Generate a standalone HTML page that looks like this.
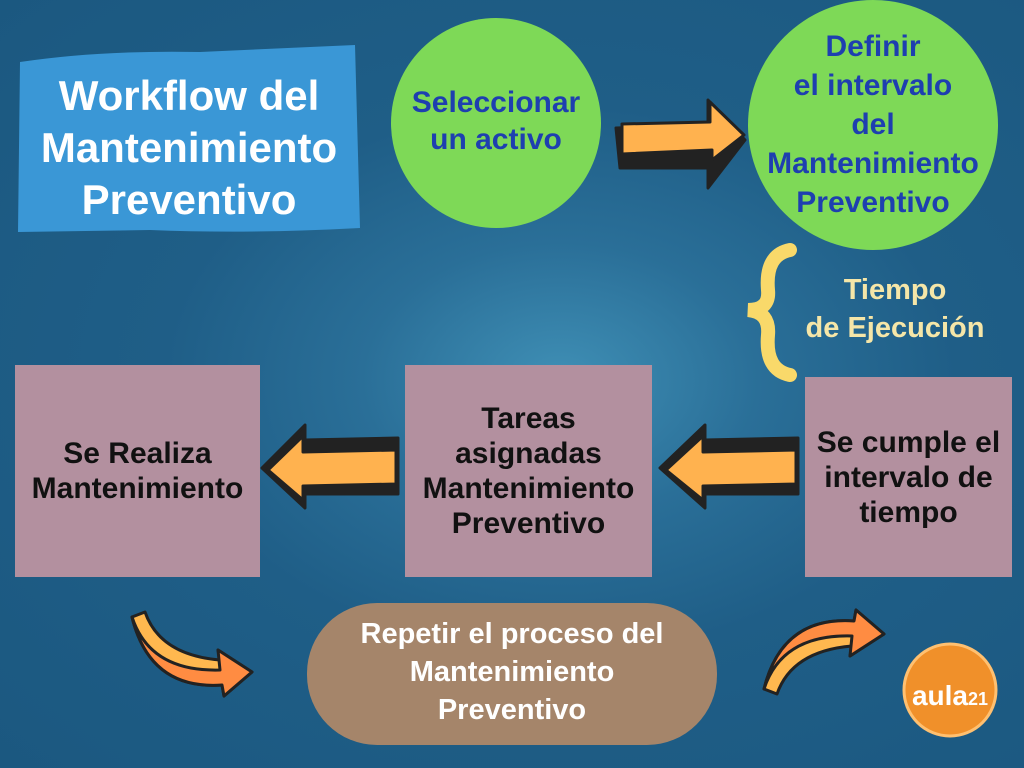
<!DOCTYPE html>
<html><head><meta charset="utf-8"><style>
body{margin:0;width:1024px;height:768px;overflow:hidden;font-family:"Liberation Sans",sans-serif;font-weight:bold}
#bg{position:absolute;inset:0;background:radial-gradient(ellipse at 560px 380px,#3f8fb5 0%,#2a6f98 25%,#1f5e87 50%,#1b5880 100%)}
.t{position:absolute;text-align:center;font-weight:bold;white-space:nowrap}
.box{position:absolute;background:#b3909f;display:flex;align-items:center;justify-content:center;text-align:center;color:#111;font-size:30px;line-height:35px;white-space:nowrap}
</style></head><body>
<div id="bg"></div>
<svg width="1024" height="768" style="position:absolute;left:0;top:0">
<path d="M20 62 Q100 50 200 52 L355 45 L360 228 Q250 234 150 230 L18 232 Z" fill="#3a97d6"/>
<circle cx="496" cy="123" r="105" fill="#7ed957"/>
<circle cx="873" cy="125" r="125" fill="#7ed957"/>
<g stroke="#222" stroke-width="3" stroke-linejoin="round">
<path d="M616 128 L708 125 L708 100 L745 140 L708 188 L708 168 L620 168 Z" fill="#222"/>
<path d="M622 124 L710 122 L710 102 L744 135 L712 160 L712 150 L622 154 Z" fill="#ffb24f"/>
<path d="M398 438 L305 440 L305 425 L262 468 L305 508 L305 494 L398 494 Z" fill="#222"/>
<path d="M396 450 L303 452 L303 436 L268 470 L303 500 L303 486 L396 484 Z" fill="#ffb24f"/>
<path d="M798 438 L705 440 L705 425 L660 468 L705 508 L705 494 L798 494 Z" fill="#222"/>
<path d="M796 450 L703 452 L703 436 L666 470 L703 500 L703 486 L796 484 Z" fill="#ffb24f"/>
<g id="ca">
<path d="M132 617 L145 612 Q160 655 220 660 L218 650 L252 672 L224 696 L222 685 Q150 690 132 617 Z" fill="#ffb84f"/>
<path d="M132 617 Q150 672 220 670 L218 650 L252 672 L224 696 L222 685 Q150 690 132 617 Z" fill="#ff8c42"/>
</g>
<use href="#ca" transform="translate(632,1306) scale(1,-1)"/>
</g>
<path d="M790 250 Q765 255 768 290 Q770 310 748 310 Q770 312 768 335 Q765 370 790 375" fill="none" stroke="#f9d96a" stroke-width="14" stroke-linecap="round"/>
<rect x="307" y="603" width="410" height="142" rx="70" fill="#a5856a"/>
<circle cx="950" cy="690" r="46" fill="#f0902a"/>
<circle cx="950" cy="690" r="46" fill="none" stroke="#ffc070" stroke-width="3"/>
<text x="950" y="705" text-anchor="middle" fill="#fff" font-family="Liberation Sans" font-size="28">aula<tspan font-size="18">21</tspan></text>
</svg>
<div class="t" style="left:18px;top:70px;width:342px;color:#fff;font-size:42px;line-height:52px">Workflow del<br>Mantenimiento<br>Preventivo</div>
<div class="t" style="left:391px;top:84px;width:210px;color:#1e3fb0;font-size:30px;line-height:37px">Seleccionar<br>un activo</div>
<div class="t" style="left:748px;top:27px;width:250px;color:#1e3fb0;font-size:30px;line-height:39px">Definir<br>el intervalo<br>del<br>Mantenimiento<br>Preventivo</div>
<div class="t" style="left:790px;top:271px;width:210px;color:#f5e6a8;font-size:29px;line-height:38px">Tiempo<br>de Ejecución</div>
<div class="box" style="left:15px;top:365px;width:245px;height:212px">Se Realiza<br>Mantenimiento</div>
<div class="box" style="left:405px;top:365px;width:247px;height:212px">Tareas<br>asignadas<br>Mantenimiento<br>Preventivo</div>
<div class="box" style="left:805px;top:377px;width:207px;height:200px">Se cumple el<br>intervalo de<br>tiempo</div>
<div class="t" style="left:307px;top:615px;width:410px;color:#fff;font-size:29px;line-height:38px">Repetir el proceso del<br>Mantenimiento<br>Preventivo</div>
</body></html>
